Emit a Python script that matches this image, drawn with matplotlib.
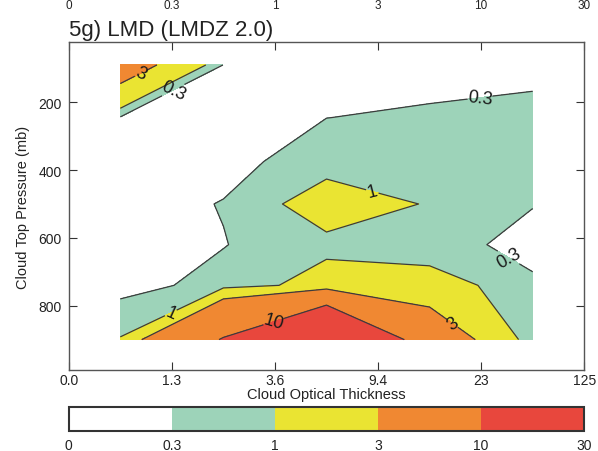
import numpy as np
import matplotlib
matplotlib.use('Agg')
import matplotlib.pyplot as plt

plt.rcParams['font.family'] = ['Liberation Sans', 'DejaVu Sans']

# ---------------- data ----------------
title = "5g) LMD (LMDZ 2.0)"
tau_edges = ["0.0", "1.3", "3.6", "9.4", "23", "125"]
pressure_centers = [90, 245, 375, 500, 620, 740, 900]
# cloud fraction (%) per pressure row (top->bottom) and optical-thickness bin
freq = [
    [4.5, 0.28, 0.0, 0.05, 0.1],
    [0.25, 0.1, 0.295, 0.39, 0.5],
    [0.0, 0.076, 0.65, 0.6, 0.45],
    [0.0, 0.33, 1.5, 0.94, 0.305],
    [0.0, 0.275, 0.775, 0.35, 0.26],
    [0.05, 0.53, 1.4, 1.6, 0.32],
    [1.05, 10.4, 25.0, 5.1, 0.35],
]
levels = [0, 0.3, 1, 3, 10, 30]
level_labels = ["0", "0.3", "1", "3", "10", "30"]
fill_colors = ['#ffffff', '#9dd3b9', '#eae432', '#f08832', '#e8473d']
y_ticks = [200, 400, 600, 800]
xlabel = "Cloud Optical Thickness"
ylabel = "Cloud Top Pressure (mb)"

# ---------------- plot ----------------
W, H = 598, 452
fig = plt.figure(figsize=(W / 100, H / 100), dpi=100)
ax = fig.add_axes([0.115, 0.179, 0.862, 0.726])

X = np.arange(len(tau_edges) - 1) + 0.5
P = np.array(pressure_centers)
Z = np.array(freq)

cf = ax.contourf(X, P, Z, levels=levels, colors=fill_colors)
cs = ax.contour(X, P, Z, levels=levels[1:-1], colors='#3c3c3c', linewidths=0.9)

fmt = {lv: lab for lv, lab in zip(levels, level_labels)}
label_pos = [(0.71, 123), (1.03, 175), (3.99, 190), (2.95, 456),
             (4.27, 656), (0.985, 818), (1.98, 842), (3.72, 854)]
ax.clabel(cs, fmt=fmt, manual=label_pos, fontsize=13, inline=True,
          inline_spacing=3, colors='#1a1a1a')

ax.set_xlim(0, len(tau_edges) - 1)
ax.set_ylim(990, 22)
ax.set_xticks(np.arange(len(tau_edges)))
ax.set_xticklabels(tau_edges)
ax.set_yticks(y_ticks)
ax.tick_params(direction='in', top=True, right=True, length=6, width=0.8,
               labelsize=10, colors='#333333', labelcolor='#222222')
ax.tick_params(axis='x', pad=2)
ax.tick_params(axis='y', pad=5)
for s in ax.spines.values():
    s.set_color('#555555')
    s.set_linewidth(1.0)
ax.set_xlabel(xlabel, fontsize=10.5, labelpad=0, color='#222222')
ax.set_ylabel(ylabel, fontsize=10.5, labelpad=6, color='#222222')

fig.text(0.115, 1 - 36 / H, title, fontsize=16, ha='left', va='baseline',
         color='#222222')

# colorbar
cax = fig.add_axes([0.115, 0.044, 0.862, 0.053])
cb = fig.colorbar(cf, cax=cax, orientation='horizontal', ticks=levels)
cb.ax.set_xticklabels(level_labels)
cb.ax.tick_params(length=0, pad=5, labelsize=10, labelcolor='#222222')
cb.outline.set_linewidth(1.5)
cb.outline.set_edgecolor('#333333')

# labels of the panel above (visible at the top edge)
for i, lab in enumerate(level_labels):
    fig.text(0.115 + i * 0.862 / (len(level_labels) - 1), 1 - 9 / H, lab,
             fontsize=8.5, ha='center', va='baseline', color='#222222')

fig.savefig('out.png', dpi=100)
